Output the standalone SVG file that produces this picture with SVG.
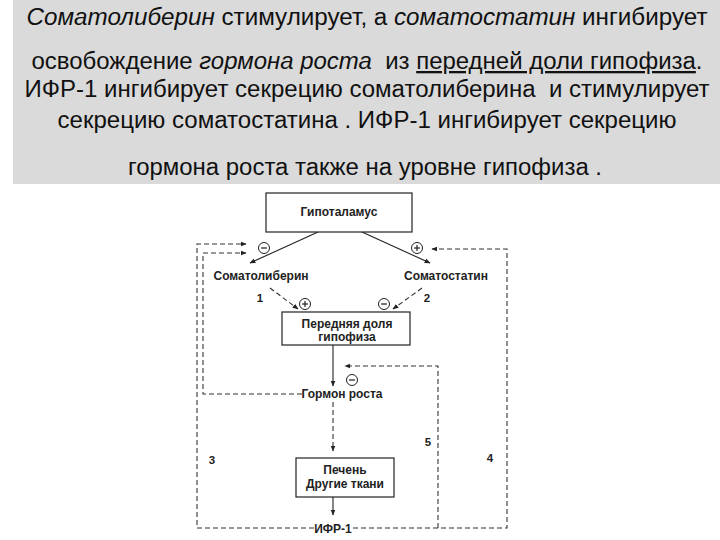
<svg xmlns="http://www.w3.org/2000/svg" width="720" height="540" viewBox="0 0 720 540">
<defs>
<marker id="ah" viewBox="0 0 10 10" refX="9" refY="5" markerWidth="6" markerHeight="6" markerUnits="userSpaceOnUse" orient="auto">
<path d="M0,1 L10,5 L0,9 z" fill="#222"/>
</marker>
</defs>
<style>
.title{font-family:"Liberation Sans",Arial,sans-serif;font-size:23px;fill:#111;text-anchor:middle}
.it{font-style:italic}
.lbl{font-family:"Liberation Sans",Arial,sans-serif;font-size:12px;font-weight:bold;fill:#222;text-anchor:middle}
.num{font-family:"Liberation Sans",Arial,sans-serif;font-size:11.5px;font-weight:bold;fill:#222;text-anchor:middle}
.box{fill:#fff;stroke:#222;stroke-width:1.2}
.solid{fill:none;stroke:#222;stroke-width:1.1}
.dash{fill:none;stroke:#333;stroke-width:1.1;stroke-dasharray:5,3}
.sign{fill:#fff;stroke:#222;stroke-width:1}
.signl{stroke:#222;stroke-width:1.2}
</style>
<rect x="0" y="0" width="720" height="540" fill="#fff"/>
<rect x="13" y="0" width="707" height="184" fill="#dadada"/>
<g id="title">
<text class="title" x="367" y="25" textLength="681" lengthAdjust="spacingAndGlyphs"><tspan class="it">Соматолиберин</tspan> стимулирует, а <tspan class="it">соматостатин</tspan> ингибирует</text>
<text class="title" x="367" y="69" xml:space="preserve" textLength="671" lengthAdjust="spacingAndGlyphs">освобождение <tspan class="it">гормона роста</tspan>  из <tspan text-decoration="underline">передней доли гипофиза</tspan>.</text>
<text class="title" x="367" y="97" xml:space="preserve" textLength="685" lengthAdjust="spacingAndGlyphs">ИФР-1 ингибирует секрецию соматолиберина  и стимулирует</text>
<text class="title" x="367" y="128" textLength="619" lengthAdjust="spacingAndGlyphs">секрецию соматостатина . ИФР-1 ингибирует секрецию</text>
<text class="title" x="365" y="175" textLength="474" lengthAdjust="spacingAndGlyphs">гормона роста также на уровне гипофиза .</text>
</g>
<g id="connectors">
<line class="solid" x1="318" y1="232" x2="250" y2="263" marker-end="url(#ah)"/>
<line class="solid" x1="362" y1="232" x2="430" y2="263" marker-end="url(#ah)"/>
<line class="dash" x1="270" y1="288" x2="298" y2="309" marker-end="url(#ah)"/>
<line class="dash" x1="422" y1="288" x2="393" y2="309" marker-end="url(#ah)"/>
<line class="solid" x1="333" y1="345" x2="333" y2="386" marker-end="url(#ah)"/>
<line class="dash" x1="333" y1="402" x2="333" y2="451" marker-end="url(#ah)"/>
<line class="solid" x1="333" y1="497" x2="333" y2="515" marker-end="url(#ah)"/>
<polyline class="dash" points="302,394 203,394 203,253 246,253" marker-end="url(#ah)"/>
<polyline class="dash" points="314,528 197,528 197,244 246,244" marker-end="url(#ah)"/>
<polyline class="dash" points="353,528 507,528 507,249 432,249" marker-end="url(#ah)"/>
<polyline class="dash" points="438,528 438,366 345,366" marker-end="url(#ah)"/>
</g>
<g id="signs">
<circle class="sign" cx="264" cy="248" r="5.5"/><line class="signl" x1="261" y1="248" x2="267" y2="248"/>
<circle class="sign" cx="417" cy="248" r="5.5"/><line class="signl" x1="414" y1="248" x2="420" y2="248"/><line class="signl" x1="417" y1="245" x2="417" y2="251"/>
<circle class="sign" cx="305" cy="304" r="5.5"/><line class="signl" x1="302" y1="304" x2="308" y2="304"/><line class="signl" x1="305" y1="301" x2="305" y2="307"/>
<circle class="sign" cx="384" cy="304" r="5.5"/><line class="signl" x1="381" y1="304" x2="387" y2="304"/>
<circle class="sign" cx="352" cy="380" r="5.5"/><line class="signl" x1="349" y1="380" x2="355" y2="380"/>
</g>
<g id="hypothalamus">
<rect class="box" x="266" y="193" width="146" height="39"/>
<text class="lbl" x="339" y="216">Гипоталамус</text>
</g>
<g id="somatoliberin">
<text class="lbl" x="261" y="280">Соматолиберин</text>
</g>
<g id="somatostatin">
<text class="lbl" x="446" y="280">Соматостатин</text>
</g>
<g id="pituitary">
<rect class="box" x="282" y="312" width="128" height="33"/>
<text class="lbl" x="347" y="328">Передняя доля</text>
<text class="lbl" x="347" y="341">гипофиза</text>
</g>
<g id="gh">
<text class="lbl" x="342" y="398">Гормон роста</text>
</g>
<g id="liver">
<rect class="box" x="296" y="458" width="98" height="39"/>
<text class="lbl" x="345" y="474">Печень</text>
<text class="lbl" x="345" y="488">Другие ткани</text>
</g>
<g id="igf">
<text class="lbl" x="333" y="533">ИФР-1</text>
</g>
<g id="numbers">
<text class="num" x="260" y="302">1</text>
<text class="num" x="427" y="302">2</text>
<text class="num" x="212" y="464">3</text>
<text class="num" x="490" y="462">4</text>
<text class="num" x="428" y="446">5</text>
</g>
</svg>
